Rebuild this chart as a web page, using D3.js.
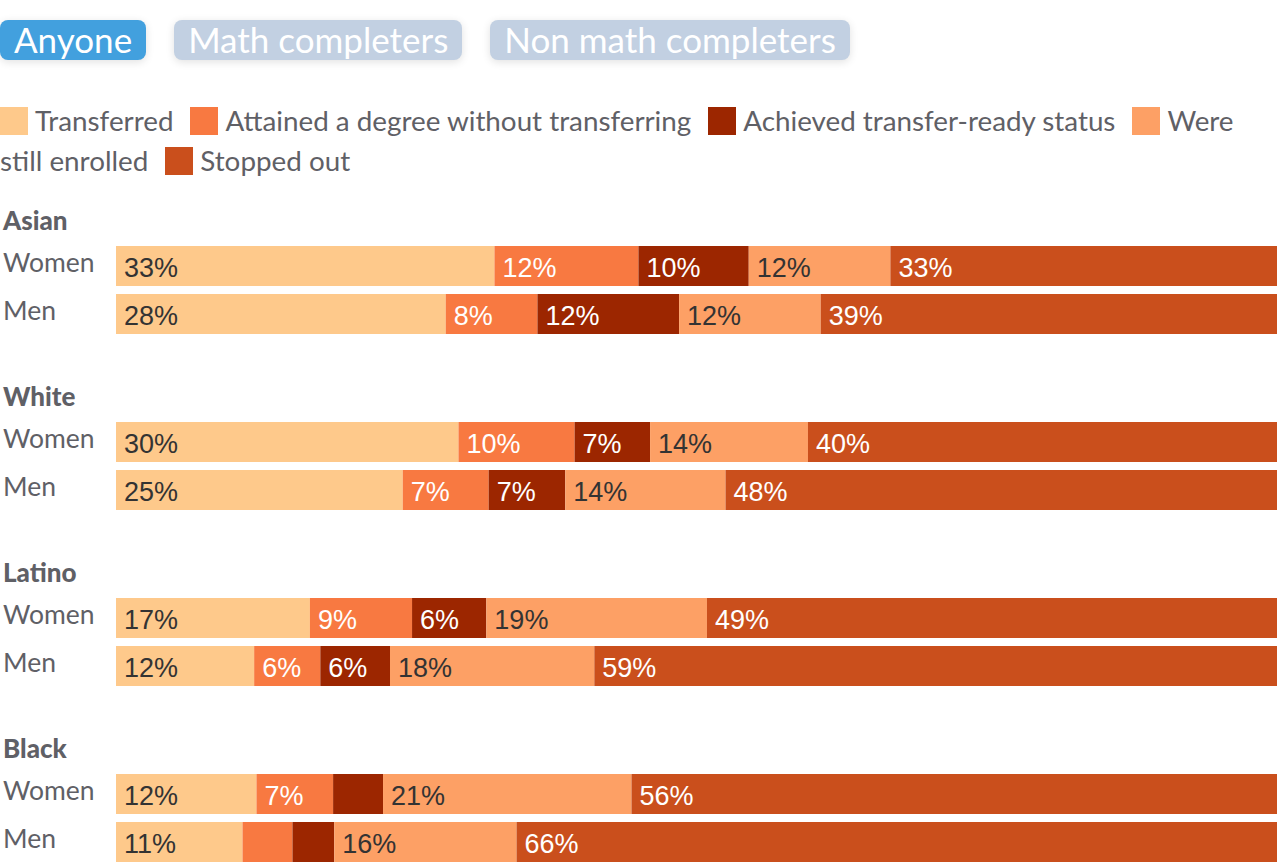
<!DOCTYPE html>
<html>
<head>
<meta charset="utf-8">
<script src="https://cdn.jsdelivr.net/npm/d3@7"></script>
<style>
  body { margin: 0; background: #fff; font-family: Lato, "Noto Sans", sans-serif; }
  #wrap { position: relative; width: 1280px; height: 862px; overflow: hidden; }
  .buttons { position: absolute; left: 0; top: 20px; display: flex; gap: 28px; }
  .btn { height: 40px; line-height: 39px; padding: 0 14px; border-radius: 8px; color: #fff;
         font-size: 35px; background: #c2d0e2; box-shadow: 0 2px 8px rgba(0,0,0,0.12); }
  .btn.active { background: #42a0de; }
  .legend { position: absolute; left: 0; top: 101px; width: 1262px; font-size: 27.8px; color: #5f6066; line-height: 40px; }
  .legend span.sw { display: inline-block; width: 28px; height: 28px; vertical-align: -4px; margin-right: 7px; }
  .legend span.item { margin-right: 17px; }
  svg { position: absolute; left: 0; top: 0; }
</style>
</head>
<body>
<div id="wrap">
  <div class="buttons" id="buttons"></div>
  <div class="legend" id="legend"></div>
  <svg id="chart" width="1280" height="862"></svg>
</div>
<script>
const filters = ['Anyone', 'Math completers', 'Non math completers'];
const outcomes = ['Transferred', 'Attained a degree without transferring', 'Achieved transfer-ready status', 'Were still enrolled', 'Stopped out'];
const colors = ['#fec98b', '#f87941', '#9c2600', '#fda065', '#ca4f1c'];
const labelColors = ['#333333', '#ffffff', '#ffffff', '#333333', '#ffffff'];
const groups = ['Asian', 'White', 'Latino', 'Black'];
const genders = ['Women', 'Men'];

// shares per group/gender, in outcome order
const asianWomen = [32.6, 12.4, 9.5, 12.2, 33.3];
const asianMen = [28.4, 7.9, 12.2, 12.2, 39.3];
const whiteWomen = [29.5, 10.0, 6.5, 13.6, 40.4];
const whiteMen = [24.7, 7.4, 6.6, 13.8, 47.5];
const latinoWomen = [16.7, 8.8, 6.4, 19.0, 49.1];
const latinoMen = [11.9, 5.7, 6.0, 17.6, 58.8];
const blackWomen = [12.1, 6.6, 4.3, 21.4, 55.6];
const blackMen = [10.9, 4.3, 3.6, 15.7, 65.5];

const rows = [
  { group: 'Asian', gender: 'Women', values: asianWomen },
  { group: 'Asian', gender: 'Men', values: asianMen },
  { group: 'White', gender: 'Women', values: whiteWomen },
  { group: 'White', gender: 'Men', values: whiteMen },
  { group: 'Latino', gender: 'Women', values: latinoWomen },
  { group: 'Latino', gender: 'Men', values: latinoMen },
  { group: 'Black', gender: 'Women', values: blackWomen },
  { group: 'Black', gender: 'Men', values: blackMen }
];

// buttons
d3.select('#buttons').selectAll('div')
  .data(filters)
  .enter()
  .append('div')
  .attr('class', (d, i) => i === 0 ? 'btn active' : 'btn')
  .text(d => d);

// legend (inline, wraps like the original)
const leg = d3.select('#legend').selectAll('span.item')
  .data(outcomes)
  .enter()
  .append('span')
  .attr('class', 'item');
leg.append('span').attr('class', 'sw').style('background', (d, i) => colors[i]);
leg.append('span').text(d => d);

const svg = d3.select('#chart');

const x = d3.scaleLinear().domain([0, 100]).range([116, 1277]);
const yGroup = d3.scaleBand().domain(groups).range([246, 246 + 176 * groups.length]);
const yGender = d3.scaleBand().domain(genders).range([0, 88]).paddingInner(1 / 6);

// group titles
svg.selectAll('.group-title')
  .data(groups)
  .enter()
  .append('text')
  .attr('class', 'group-title')
  .attr('x', 3)
  .attr('y', d => yGroup(d) - 16)
  .attr('fill', '#5f6066')
  .style('font-size', '26px')
  .style('font-weight', '900')
  .text(d => d);

const row = svg.selectAll('.row')
  .data(rows)
  .enter()
  .append('g')
  .attr('class', 'row')
  .attr('transform', d => `translate(0, ${yGroup(d.group) + yGender(d.gender)})`);

row.append('text')
  .attr('x', 3)
  .attr('y', 26)
  .attr('fill', '#5f6066')
  .style('font-size', '26.5px')
  .text(d => d.gender);

const segs = row.selectAll('.seg')
  .data(d => {
    let acc = 0;
    return d.values.map((v, i) => {
      const s = { start: acc, value: v, i: i };
      acc += v;
      return s;
    });
  })
  .enter()
  .append('g')
  .attr('class', 'seg');

segs.append('rect')
  .attr('x', d => x(d.start))
  .attr('y', 0)
  .attr('width', d => x(d.start + d.value) - x(d.start))
  .attr('height', yGender.bandwidth())
  .attr('fill', d => colors[d.i]);

segs.filter(d => d.value >= 5)
  .append('text')
  .attr('x', d => x(d.start) + 8)
  .attr('y', yGender.bandwidth() / 2 + 1)
  .attr('dy', '0.37em')
  .attr('fill', d => labelColors[d.i])
  .style('font-family', '"Liberation Sans", Arial, sans-serif')
  .style('font-size', '27px')
  .text(d => Math.round(d.value) + '%');
</script>
</body>
</html>
